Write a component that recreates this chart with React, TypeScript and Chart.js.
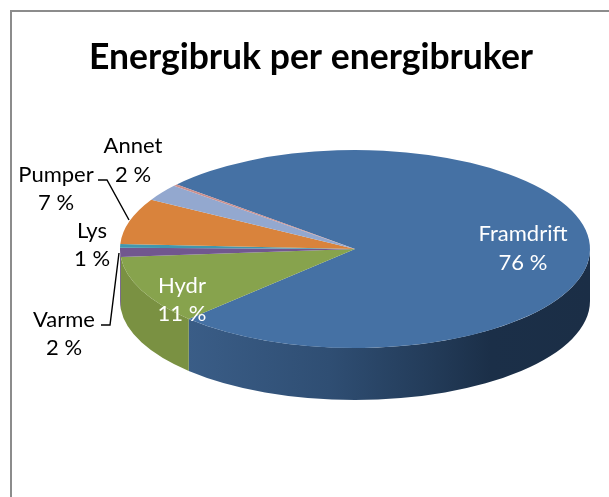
import React, { useEffect, useRef } from "react";
import { Chart, registerables } from "chart.js";

Chart.register(...registerables);

const chartTitle = "Energibruk per energibruker";
const categories = ["Framdrift", "Hydr", "Varme", "Lys", "Pumper", "Annet", "Øvrig"];
const shares = [76.2, 11.2, 1.5, 0.6, 7.5, 2.7, 0.3];
const shownPercent = ["76 %", "11 %", "2 %", "1 %", "7 %", "2 %", ""];

const topColors = ["#4571a4", "#87a34d", "#71578f", "#4197ae", "#d9833c", "#93a8cf", "#c98f8e"];
const sideColors = ["#3a5d87", "#7a9142", "#5e4877", "#357d90", "#b46d32", "#7a8cac", "#a77776"];

// label anchor [x, first-line y, second-line y], and colour
const labelPlaces: [number, number, number, string][] = [
  [523, 234, 263, "#ffffff"],
  [182, 286, 314, "#ffffff"],
  [64, 320, 348, "#000000"],
  [92, 231, 259, "#000000"],
  [56, 175, 203, "#000000"],
  [133, 146, 175, "#000000"],
];
const leaders: [number, number][][] = [
  [[98, 180], [107, 180], [129, 220]],
  [[101, 325], [110, 325], [119, 253]],
];

const ROTATION = -49.3;
const SQUASH = 99 / 235;
const DEPTH = 52;

const piePlugin = {
  id: "pie3d",
  beforeDraw(chart: any) {
    const ctx = chart.ctx;
    ctx.save();
    ctx.fillStyle = "#ffffff";
    ctx.fillRect(0, 0, chart.width, chart.height);
    ctx.strokeStyle = "#8c8c8c";
    ctx.lineWidth = 2;
    ctx.beginPath();
    ctx.moveTo(11, chart.height);
    ctx.lineTo(11, 11);
    ctx.lineTo(chart.width, 11);
    ctx.stroke();
    ctx.restore();
  },
  beforeDatasetsDraw(chart: any) {
    const ctx = chart.ctx;
    const arcs = chart.getDatasetMeta(0).data;
    const cx = arcs[0].x;
    const cy = arcs[0].y;
    const rx = arcs[0].outerRadius;
    const ry = rx * SQUASH;
    // extruded wall: only the front half of each slice (canvas angles 0..PI)
    arcs.forEach((arc: any, i: number) => {
      const norm = (a: number) => {
        let v = a % (2 * Math.PI);
        if (v < 0) v += 2 * Math.PI;
        return v;
      };
      const segs: [number, number][] = [];
      const s = arc.startAngle;
      const e = arc.endAngle;
      for (let k = -1; k <= 1; k++) {
        const lo = Math.max(s, k * 2 * Math.PI);
        const hi = Math.min(e, k * 2 * Math.PI + Math.PI);
        if (hi > lo) segs.push([norm(lo), norm(lo) + (hi - lo)]);
      }
      segs.forEach(([a, b]) => {
        ctx.save();
        ctx.beginPath();
        ctx.ellipse(cx, cy + DEPTH, rx, ry, 0, a, b, false);
        ctx.ellipse(cx, cy, rx, ry, 0, b, a, true);
        ctx.closePath();
        if (i === 0) {
          const g = ctx.createLinearGradient(188, 0, 591, 0);
          g.addColorStop(0, "#3a5d87");
          g.addColorStop(0.35, "#2f4e73");
          g.addColorStop(0.62, "#223a57");
          g.addColorStop(0.75, "#1b2f48");
          g.addColorStop(1, "#1b2e46");
          ctx.fillStyle = g;
        } else {
          ctx.fillStyle = sideColors[i];
        }
        ctx.fill();
        ctx.restore();
      });
    });
    ctx.save();
    ctx.translate(cx, cy);
    ctx.scale(1, SQUASH);
    ctx.translate(-cx, -cy);
  },
  afterDatasetsDraw(chart: any) {
    const ctx = chart.ctx;
    ctx.restore();
    ctx.save();
    ctx.fillStyle = "#000000";
    ctx.font = "bold 35.5px Lato";
    ctx.textAlign = "center";
    ctx.textBaseline = "alphabetic";
    ctx.fillText(chartTitle, 311, 69);
    ctx.font = "22px Lato";
    ctx.textBaseline = "middle";
    labelPlaces.forEach(([x, y1, y2, color], i) => {
      ctx.fillStyle = color;
      ctx.fillText(categories[i], x, y1);
      ctx.fillText(shownPercent[i], x, y2);
    });
    ctx.strokeStyle = "#000000";
    ctx.lineWidth = 1.4;
    leaders.forEach((pts) => {
      ctx.beginPath();
      pts.forEach(([x, y], j) => (j ? ctx.lineTo(x, y) : ctx.moveTo(x, y)));
      ctx.stroke();
    });
    ctx.restore();
  },
};

export default function App() {
  const ref = useRef<HTMLCanvasElement>(null);
  useEffect(() => {
    const chart = new Chart(ref.current!, {
      type: "pie",
      data: {
        labels: categories,
        datasets: [
          {
            data: shares,
            backgroundColor: topColors,
            borderWidth: 0,
            clip: false,
          } as any,
        ],
      },
      options: {
        animation: false,
        responsive: false,
        rotation: ROTATION,
        radius: 235,
        layout: { padding: { left: 120, right: 19, top: 14, bottom: 13 } },
        events: [],
        plugins: { legend: { display: false }, tooltip: { enabled: false } },
      },
      plugins: [piePlugin],
    });
    return () => chart.destroy();
  }, []);
  return (
    <canvas
      ref={ref}
      width={609}
      height={497}
      style={{ position: "fixed", left: 0, top: 0, display: "block" }}
    />
  );
}
